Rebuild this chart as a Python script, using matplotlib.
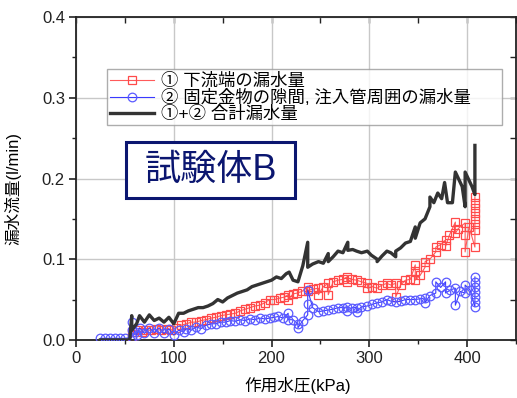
import matplotlib
matplotlib.use("Agg")
import matplotlib.pyplot as plt
from matplotlib.patches import Rectangle

plt.rcParams['font.family'] = ['Liberation Sans', 'Noto Sans CJK JP', 'DejaVu Sans']

# ① downstream-end leakage (kPa, l/min)
red_x = [57, 57, 62, 67, 72, 77, 82, 87, 92, 97, 102, 107, 113, 118, 123, 128, 133, 138,
         143, 148, 153, 158, 163, 168, 173, 178, 183, 188, 193, 198, 203, 209, 213, 217,
         217, 222, 226, 231, 237, 237, 242, 248, 248, 253, 258, 258, 263, 268, 273, 277,
         277, 282, 287, 292, 298, 298, 303, 308, 313, 318, 322, 327, 327, 332, 337, 342,
         347, 347, 347, 352, 357, 357, 362, 368, 368, 373, 378, 378, 382, 388, 388, 391,
         398, 398, 398, 402, 408, 408, 408, 408, 408, 408, 408, 408]
red_y = [0.004, 0.010, 0.012, 0.010, 0.012, 0.012, 0.013, 0.012, 0.014, 0.012, 0.015,
         0.018, 0.020, 0.022, 0.022, 0.024, 0.025, 0.027, 0.028, 0.030, 0.031, 0.032,
         0.033, 0.036, 0.038, 0.040, 0.042, 0.043, 0.046, 0.050, 0.050, 0.052, 0.053,
         0.056, 0.050, 0.057, 0.058, 0.060, 0.066, 0.061, 0.063, 0.064, 0.056, 0.066,
         0.070, 0.056, 0.072, 0.074, 0.075, 0.078, 0.072, 0.075, 0.074, 0.072, 0.070,
         0.064, 0.066, 0.064, 0.068, 0.070, 0.068, 0.070, 0.053, 0.068, 0.074, 0.075,
         0.093, 0.085, 0.074, 0.080, 0.090, 0.097, 0.100, 0.109, 0.115, 0.118, 0.124,
         0.116, 0.130, 0.146, 0.132, 0.138, 0.145, 0.130, 0.109, 0.140, 0.115, 0.136,
         0.143, 0.150, 0.157, 0.164, 0.170, 0.177]

# ② leakage around the fixing hardware and injection pipe
blue_x = [25, 30, 35, 40, 45, 50, 57, 57, 57, 60, 62, 65, 70, 75, 80, 85, 90, 95, 100,
          105, 110, 113, 118, 123, 128, 133, 138, 143, 148, 153, 158, 163, 168, 173,
          178, 183, 188, 193, 198, 203, 207, 212, 217, 217, 222, 227, 227, 232, 237,
          237, 237, 242, 248, 253, 258, 263, 268, 273, 277, 277, 282, 287, 287, 292,
          298, 303, 308, 313, 318, 322, 327, 332, 337, 342, 347, 352, 357, 357, 362,
          368, 368, 373, 378, 378, 383, 388, 388, 393, 398, 398, 403, 408, 408, 408,
          408, 408, 408, 408]
blue_y = [0.002, 0.002, 0.002, 0.002, 0.002, 0.002, 0.003, 0.012, 0.022, 0.010, 0.006,
          0.015, 0.008, 0.015, 0.009, 0.015, 0.008, 0.014, 0.006, 0.012, 0.010, 0.014,
          0.012, 0.016, 0.014, 0.018, 0.020, 0.020, 0.022, 0.022, 0.024, 0.023, 0.025,
          0.024, 0.026, 0.025, 0.027, 0.026, 0.027, 0.028, 0.029, 0.027, 0.033, 0.025,
          0.025, 0.020, 0.015, 0.024, 0.031, 0.045, 0.062, 0.040, 0.035, 0.036, 0.037,
          0.038, 0.040, 0.040, 0.041, 0.036, 0.040, 0.040, 0.035, 0.041, 0.042, 0.044,
          0.046, 0.047, 0.050, 0.048, 0.047, 0.048, 0.050, 0.050, 0.050, 0.051, 0.052,
          0.046, 0.055, 0.058, 0.072, 0.065, 0.072, 0.058, 0.062, 0.064, 0.043, 0.060,
          0.058, 0.068, 0.062, 0.041, 0.047, 0.053, 0.059, 0.065, 0.072, 0.078]

# ①+② total leakage
total_x = [25, 35, 45, 55, 57, 57, 62, 65, 70, 75, 80, 85, 90, 95, 100, 105, 110, 115,
           120, 125, 130, 135, 140, 145, 150, 155, 160, 165, 170, 175, 180, 185, 190,
           195, 200, 205, 210, 215, 218, 222, 227, 232, 237, 237, 242, 248, 253, 258,
           258, 263, 268, 273, 278, 278, 283, 287, 292, 298, 302, 308, 308, 313, 318,
           322, 327, 327, 332, 337, 342, 347, 347, 352, 357, 362, 362, 366, 370, 374,
           377, 380, 385, 388, 395, 398, 398, 405, 408, 408]
total_y = [0.000, 0.000, 0.000, 0.000, 0.030, 0.012, 0.020, 0.030, 0.022, 0.031, 0.024,
           0.027, 0.022, 0.028, 0.020, 0.033, 0.033, 0.036, 0.038, 0.040, 0.040, 0.042,
           0.045, 0.050, 0.047, 0.052, 0.055, 0.058, 0.060, 0.062, 0.066, 0.068, 0.070,
           0.072, 0.074, 0.078, 0.076, 0.082, 0.084, 0.074, 0.072, 0.092, 0.121, 0.090,
           0.094, 0.097, 0.095, 0.107, 0.097, 0.103, 0.110, 0.108, 0.121, 0.111, 0.112,
           0.110, 0.108, 0.110, 0.105, 0.100, 0.097, 0.104, 0.110, 0.108, 0.103, 0.110,
           0.114, 0.120, 0.122, 0.140, 0.126, 0.145, 0.150, 0.165, 0.177, 0.170, 0.182,
           0.175, 0.195, 0.170, 0.170, 0.208, 0.190, 0.165, 0.208, 0.190, 0.180, 0.241]

x_ticks = [0, 100, 200, 300, 400]
y_ticks = [0.0, 0.1, 0.2, 0.3, 0.4]
y_tick_labels = ["0.0", "0.1", "0.2", "0.3", "0.4"]

legend_labels = ["① 下流端の漏水量",
                 "② 固定金物の隙間, 注入管周囲の漏水量",
                 "①+② 合計漏水量"]
specimen_label = "試験体B"

fig = plt.figure(figsize=(5.17, 3.98), dpi=100)
ax = fig.add_axes([0.147, 0.146, 0.851, 0.811])

ax.plot(red_x, red_y, color='#ff5a5a', lw=0.8, marker='s', ms=5.8, mfc='none',
        mec='#ff4a4a', mew=0.9, label=legend_labels[0], zorder=3)
ax.plot(blue_x, blue_y, color='#3a3aff', lw=0.8, marker='o', ms=6.2, mfc='none',
        mec='#5a5aff', mew=0.9, label=legend_labels[1], zorder=3)
ax.plot(total_x, total_y, color='#333333', lw=2.4, label=legend_labels[2], zorder=4)

ax.set_xlim(0, 450)
ax.set_ylim(0, 0.4)
ax.set_xticks(x_ticks)
ax.set_xticks([50, 150, 250, 350, 450], minor=True)
ax.set_yticks(y_ticks)
ax.set_yticklabels(y_tick_labels)
ax.set_yticks([0.05, 0.15, 0.25, 0.35], minor=True)
ax.grid(True, which='major', color='#c8c8c8', lw=1.0, zorder=0)
ax.set_axisbelow(True)

ax.tick_params(axis='both', which='major', labelsize=12, colors='#222222',
               direction='out', length=5, width=1.2, pad=3)
ax.tick_params(axis='both', which='minor', direction='out', length=3, width=1.0,
               colors='#222222')
for s in ax.spines.values():
    s.set_linewidth(1.3)
    s.set_color('#222222')

# inward ticks on the top and right frame
top = ax.secondary_xaxis('top')
top.set_xticks(x_ticks)
top.set_xticks([50, 150, 250, 350, 450], minor=True)
top.tick_params(which='both', direction='in', length=4, width=1.0, labeltop=False,
                colors='#222222')
top.spines['top'].set_visible(False)
right = ax.secondary_yaxis('right')
right.set_yticks(y_ticks)
right.set_yticks([0.05, 0.15, 0.25, 0.35], minor=True)
right.tick_params(which='both', direction='in', length=4, width=1.0, labelright=False,
                  colors='#222222')
right.spines['right'].set_visible(False)

ax.set_xlabel("作用水圧(kPa)", fontsize=12)
ax.xaxis.set_label_coords(0.505, -0.115)
ax.set_ylabel("漏水流量(l/min)", fontsize=12)
ax.yaxis.set_label_coords(-0.125, 0.47)

leg = ax.legend(loc='upper left', bbox_to_anchor=(0.07, 0.656, 0.898, 0.183),
                mode='expand', fontsize=12.5,
                frameon=True, fancybox=False, edgecolor='#999999',
                borderpad=0.2, labelspacing=0.0, handlelength=2.5,
                handletextpad=0.45, borderaxespad=0)
leg.get_frame().set_linewidth(1.0)

# specimen tag
ax.add_patch(Rectangle((0.1136, 0.4396), 0.384, 0.1734, transform=ax.transAxes,
                       fc='white', ec='#0b1670', lw=2.2, zorder=5))
ax.text(0.306, 0.526, specimen_label, transform=ax.transAxes, fontsize=26,
        color='#0b1670', ha='center', va='center', zorder=6)

fig.savefig("out.png", dpi=100)
